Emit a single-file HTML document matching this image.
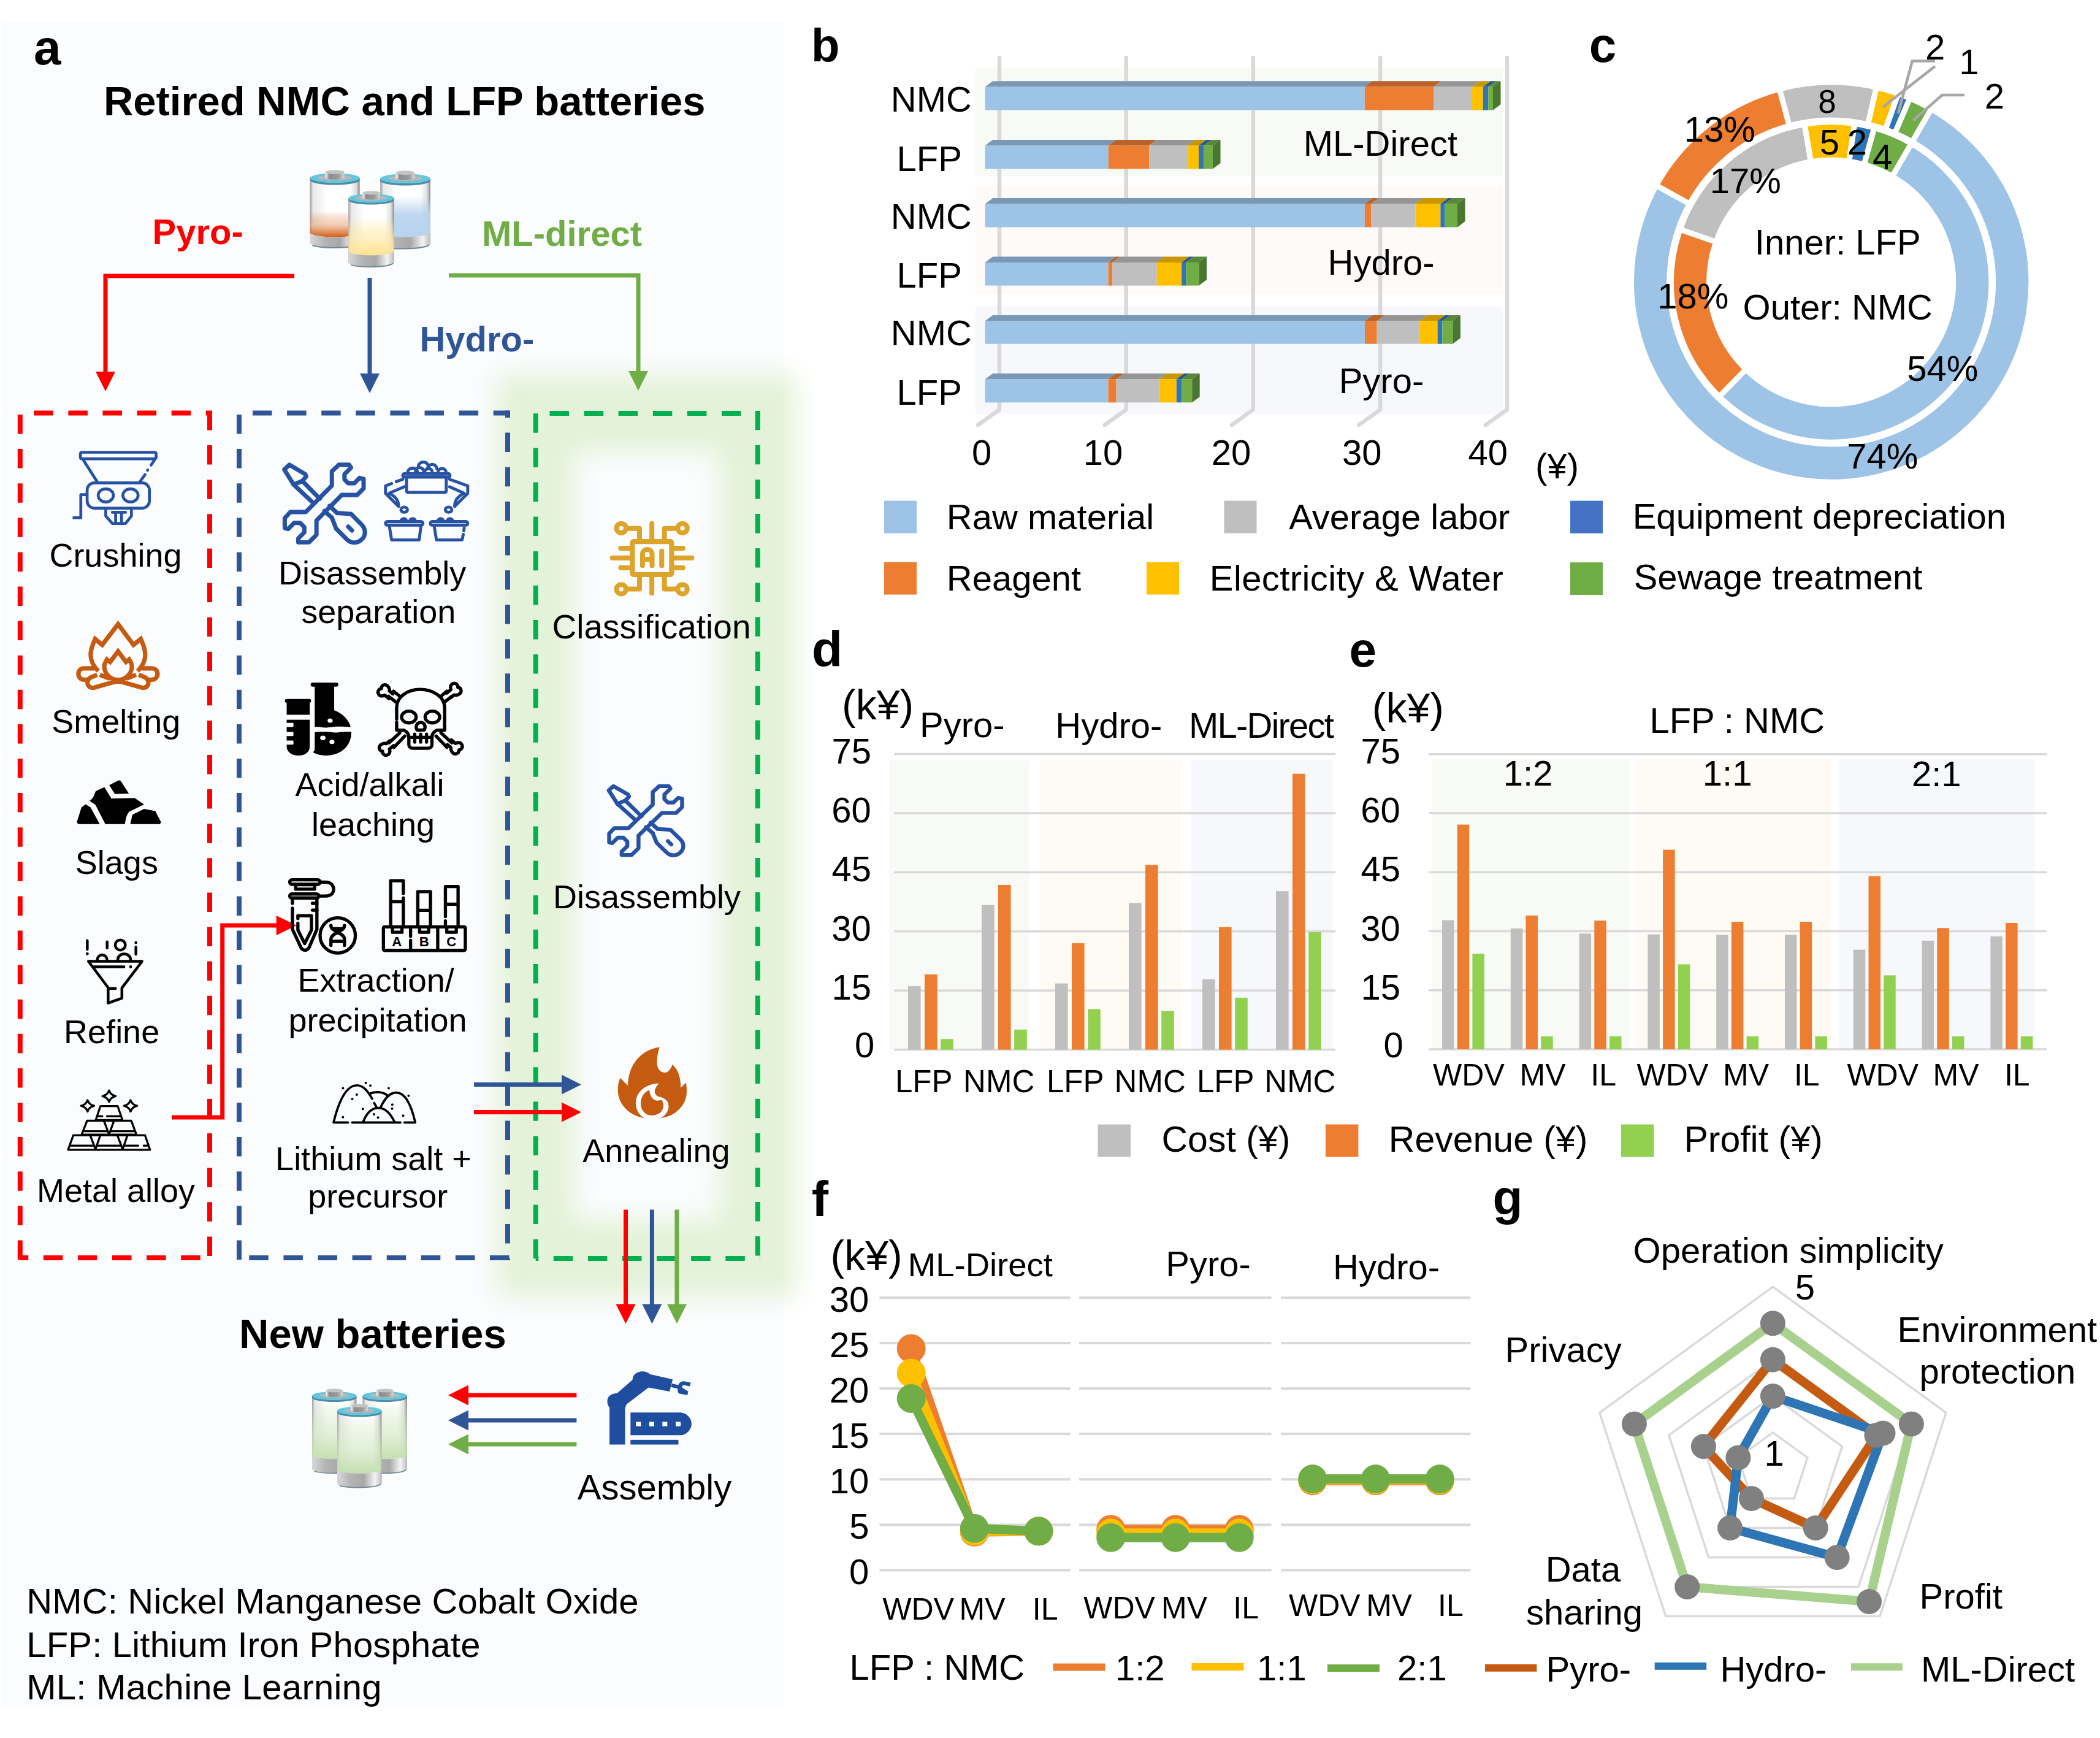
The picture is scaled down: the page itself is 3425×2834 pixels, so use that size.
<!DOCTYPE html>
<html><head><meta charset="utf-8"><style>
html,body{margin:0;padding:0;background:#fff;}
svg{display:block;font-family:"Liberation Sans",sans-serif;}
</style></head><body>
<svg xmlns="http://www.w3.org/2000/svg" width="3425" height="2834" viewBox="0 0 3425 2834">
<defs><filter id="glow" x="-50%" y="-50%" width="200%" height="200%"><feGaussianBlur stdDeviation="20"/></filter><linearGradient id="bBody" x1="0" x2="1" y1="0" y2="0">
<stop offset="0" stop-color="#9a9a9a"/><stop offset="0.06" stop-color="#e8e8e8"/><stop offset="0.35" stop-color="#ffffff"/><stop offset="0.8" stop-color="#ffffff"/><stop offset="0.93" stop-color="#e0e0e0"/><stop offset="1" stop-color="#8a8a8a"/></linearGradient>
<linearGradient id="bBand" x1="0" x2="1" y1="0" y2="0">
<stop offset="0" stop-color="#d8d8d8"/><stop offset="0.3" stop-color="#b4b4b4"/><stop offset="0.6" stop-color="#a8a8a8"/><stop offset="0.85" stop-color="#f4f4f4"/><stop offset="1" stop-color="#bcbcbc"/></linearGradient>
<linearGradient id="bTerm" x1="0" x2="1" y1="0" y2="0">
<stop offset="0" stop-color="#ffffff"/><stop offset="0.2" stop-color="#8c8c8c"/><stop offset="0.7" stop-color="#9c9c9c"/><stop offset="1" stop-color="#d8d8d8"/></linearGradient>
<linearGradient id="lOr" x1="0" x2="0" y1="0" y2="1"><stop offset="0" stop-color="#D9621F" stop-opacity="0"/><stop offset="0.5" stop-color="#E8A070" stop-opacity="0.5"/><stop offset="1" stop-color="#D35A14"/></linearGradient>
<linearGradient id="lBl" x1="0" x2="0" y1="0" y2="1"><stop offset="0" stop-color="#B8D3EE" stop-opacity="0"/><stop offset="0.45" stop-color="#B8D3EE" stop-opacity="0.9"/><stop offset="1" stop-color="#B8D3EE"/></linearGradient>
<linearGradient id="lYe" x1="0" x2="0" y1="0" y2="1"><stop offset="0" stop-color="#FFE391" stop-opacity="0"/><stop offset="0.55" stop-color="#FFE9A8" stop-opacity="0.7"/><stop offset="1" stop-color="#FFE391"/></linearGradient>
<linearGradient id="lGr" x1="0" x2="0" y1="0" y2="1"><stop offset="0" stop-color="#C6E0B4" stop-opacity="0.1"/><stop offset="0.5" stop-color="#D2E8C2" stop-opacity="0.6"/><stop offset="1" stop-color="#C3DFAF"/></linearGradient></defs>
<rect x="2" y="36" width="1276" height="2747" fill="#FBFCFE"/>
<rect x="873.7" y="674" width="362.1" height="1378" fill="none" stroke="#E3F2D8" stroke-width="125" filter="url(#glow)"/>
<text x="54.9" y="105.0" font-size="80" font-weight="bold" fill="#000">a</text>
<text x="168.9" y="188.0" font-size="67" font-weight="bold" fill="#000">Retired NMC and LFP batteries</text>
<text x="248.6" y="398.0" font-size="58" font-weight="bold" fill="#FF0000">Pyro-</text>
<text x="786.0" y="401.0" font-size="58" font-weight="bold" fill="#70AD47">ML-direct</text>
<text x="684.4" y="573.0" font-size="58" font-weight="bold" fill="#2F5597">Hydro-</text>
<path d="M480,450 H172 V610" fill="none" stroke="#FF0000" stroke-width="7"/>
<polygon points="172.0,638.0 156.0,606.0 188.0,606.0" fill="#FF0000"/>
<path d="M603,453 V610" fill="none" stroke="#2F5597" stroke-width="7"/>
<polygon points="603.0,641.0 587.0,609.0 619.0,609.0" fill="#2F5597"/>
<path d="M732,449 H1041 V607" fill="none" stroke="#70AD47" stroke-width="7"/>
<polygon points="1041.0,637.0 1025.0,605.0 1057.0,605.0" fill="#70AD47"/>
<path d="M32.8,673.6 H346" fill="none" stroke="#FF0000" stroke-width="8" stroke-dasharray="31.5 24.6" stroke-dashoffset="33.6"/>
<path d="M32.8,669.6 V2055" fill="none" stroke="#FF0000" stroke-width="8" stroke-dasharray="31.5 24.6" stroke-dashoffset="49.7"/>
<path d="M342,669.6 V2055" fill="none" stroke="#FF0000" stroke-width="8" stroke-dasharray="31.5 24.6" stroke-dashoffset="55.7"/>
<path d="M32.8,2051 H346" fill="none" stroke="#FF0000" stroke-width="8" stroke-dasharray="31.5 24.6" stroke-dashoffset="18.1"/>
<path d="M390,673.6 H832" fill="none" stroke="#2F5597" stroke-width="8" stroke-dasharray="31.5 24.6" stroke-dashoffset="34.1"/>
<path d="M390,669.6 V2055" fill="none" stroke="#2F5597" stroke-width="8" stroke-dasharray="31.5 24.6" stroke-dashoffset="49.7"/>
<path d="M828,669.6 V2055" fill="none" stroke="#2F5597" stroke-width="8" stroke-dasharray="31.5 24.6" stroke-dashoffset="20.1"/>
<path d="M390,2051 H832" fill="none" stroke="#2F5597" stroke-width="8" stroke-dasharray="31.5 24.6" stroke-dashoffset="39.8"/>
<path d="M873.7,674 H1239.8" fill="none" stroke="#00B050" stroke-width="8" stroke-dasharray="31.5 24.6" stroke-dashoffset="33.3"/>
<path d="M873.7,670 V2056" fill="none" stroke="#00B050" stroke-width="8" stroke-dasharray="31.5 24.6" stroke-dashoffset="51.8"/>
<path d="M1235.8,670 V2056" fill="none" stroke="#00B050" stroke-width="8" stroke-dasharray="31.5 24.6" stroke-dashoffset="0.3"/>
<path d="M873.7,2052 H1239.8" fill="none" stroke="#00B050" stroke-width="8" stroke-dasharray="31.5 24.6" stroke-dashoffset="27.0"/>
<path d="M280,1822 H362.7 V1509 H455" fill="none" stroke="#FF0000" stroke-width="7"/>
<polygon points="483.7,1509.0 450.7,1493.0 450.7,1525.0" fill="#FF0000"/>
<path d="M773,1768.5 H918" fill="none" stroke="#2F5597" stroke-width="7"/>
<polygon points="948.0,1768.5 916.0,1752.5 916.0,1784.5" fill="#2F5597"/>
<path d="M773,1813.5 H918" fill="none" stroke="#FF0000" stroke-width="7"/>
<polygon points="948.0,1813.5 916.0,1797.5 916.0,1829.5" fill="#FF0000"/>
<path d="M1020.5,1972.6 V2128" fill="none" stroke="#FF0000" stroke-width="7"/>
<polygon points="1020.5,2158.5 1004.5,2126.5 1036.5,2126.5" fill="#FF0000"/>
<path d="M1063.4,1972.6 V2128" fill="none" stroke="#2F5597" stroke-width="7"/>
<polygon points="1063.4,2158.5 1047.4,2126.5 1079.4,2126.5" fill="#2F5597"/>
<path d="M1104,1972.6 V2128" fill="none" stroke="#70AD47" stroke-width="7"/>
<polygon points="1104.0,2158.5 1088.0,2126.5 1120.0,2126.5" fill="#70AD47"/>
<text x="390.1" y="2198.0" font-size="67" font-weight="bold" fill="#000">New batteries</text>
<path d="M940.4,2275 H762" fill="none" stroke="#FF0000" stroke-width="7"/>
<polygon points="731.0,2275.0 764.0,2258.5 764.0,2291.5" fill="#FF0000"/>
<path d="M940.4,2316 H762" fill="none" stroke="#2F5597" stroke-width="7"/>
<polygon points="731.0,2316.0 764.0,2299.5 764.0,2332.5" fill="#2F5597"/>
<path d="M940.4,2355 H762" fill="none" stroke="#70AD47" stroke-width="7"/>
<polygon points="731.0,2355.0 764.0,2338.5 764.0,2371.5" fill="#70AD47"/>
<text x="80.4" y="923.5" font-size="54" fill="#000">Crushing</text>
<text x="84.2" y="1194.6" font-size="54" fill="#000">Smelting</text>
<text x="122.8" y="1425.0" font-size="54" fill="#000">Slags</text>
<text x="104.1" y="1701.0" font-size="54" fill="#000">Refine</text>
<text x="60.0" y="1960.0" font-size="54" fill="#000">Metal alloy</text>
<text x="454.1" y="953.0" font-size="54" fill="#000">Disassembly</text>
<text x="491.2" y="1016.0" font-size="54" fill="#000">separation</text>
<text x="481.4" y="1298.0" font-size="54" fill="#000">Acid/alkali</text>
<text x="508.0" y="1362.8" font-size="54" fill="#000">leaching</text>
<text x="485.6" y="1617.0" font-size="54" fill="#000">Extraction/</text>
<text x="470.4" y="1681.7" font-size="54" fill="#000">precipitation</text>
<text x="449.1" y="1907.8" font-size="54" fill="#000">Lithium salt +</text>
<text x="502.2" y="1969.0" font-size="54" fill="#000">precursor</text>
<text x="900.5" y="1041.3" font-size="55" fill="#000">Classification</text>
<text x="901.9" y="1480.5" font-size="54" fill="#000">Disassembly</text>
<text x="950.3" y="1895.0" font-size="54" fill="#000">Annealing</text>
<text x="941.8" y="2445.0" font-size="58" fill="#000">Assembly</text>
<text x="43.2" y="2631.0" font-size="58" fill="#000" textLength="998.4" lengthAdjust="spacing">NMC: Nickel Manganese Cobalt Oxide</text>
<text x="43.2" y="2702.0" font-size="58" fill="#000" textLength="740.3" lengthAdjust="spacing">LFP: Lithium Iron Phosphate</text>
<text x="43.2" y="2771.0" font-size="58" fill="#000" textLength="579.4" lengthAdjust="spacing">ML: Machine Learning</text>
<g transform="translate(495,265) scale(0.10476)"><path d="M100,240 V1250 A387.5,69.75 0 0 0 875,1250 V240 Z" fill="url(#bBody)"/><path d="M100,760 V1090 A387.5,69.75 0 0 0 875,1090 V760 Z" fill="url(#lOr)"/><path d="M100,1090 V1250 A387.5,69.75 0 0 0 875,1250 V1090 A387.5,69.75 0 0 1 100,1090 Z" fill="url(#bBand)"/><path d="M138.75,1291.85 A387.5,69.75 0 0 0 855.625,1263.95" fill="none" stroke="#3a5a6a" stroke-width="19.375" opacity="0.7"/><ellipse cx="487.5" cy="240" rx="387.5" ry="73.2375" fill="#62C6DD"/><path d="M100,240 A387.5,73.2375 0 0 0 875,240 v34.875 A387.5,73.2375 0 0 1 100,274.875 Z" fill="#4a8fa5"/><ellipse cx="487.5" cy="236.5125" rx="263.5" ry="43.245" fill="#b8b8b8"/><path d="M340.25,149.325 V233.025 A147.25,31.3875 0 0 0 634.75,233.025 V149.325 Z" fill="url(#bTerm)"/><ellipse cx="487.5" cy="149.325" rx="147.25" ry="31.3875" fill="#c4c4c4"/><path d="M1195,250 V1265 A390.0,70.2 0 0 0 1975,1265 V250 Z" fill="url(#bBody)"/><path d="M1195,520 V1090 A390.0,70.2 0 0 0 1975,1090 V520 Z" fill="url(#lBl)"/><path d="M1195,1090 V1265 A390.0,70.2 0 0 0 1975,1265 V1090 A390.0,70.2 0 0 1 1195,1090 Z" fill="url(#bBand)"/><path d="M1234.0,1307.12 A390.0,70.2 0 0 0 1955.5,1279.04" fill="none" stroke="#3a5a6a" stroke-width="19.5" opacity="0.7"/><ellipse cx="1585.0" cy="250" rx="390.0" ry="73.71000000000001" fill="#62C6DD"/><path d="M1195,250 A390.0,73.71000000000001 0 0 0 1975,250 v35.1 A390.0,73.71000000000001 0 0 1 1195,285.1 Z" fill="#4a8fa5"/><ellipse cx="1585.0" cy="246.49" rx="265.20000000000005" ry="43.524" fill="#b8b8b8"/><path d="M1436.8,158.74 V242.98 A148.2,31.590000000000003 0 0 0 1733.2,242.98 V158.74 Z" fill="url(#bTerm)"/><ellipse cx="1585.0" cy="158.74" rx="148.2" ry="31.590000000000003" fill="#c4c4c4"/><path d="M700,555 V1555 A355.0,63.9 0 0 0 1410,1555 V555 Z" fill="url(#bBody)"/><path d="M700,850 V1380 A355.0,63.9 0 0 0 1410,1380 V850 Z" fill="url(#lYe)"/><path d="M700,1380 V1555 A355.0,63.9 0 0 0 1410,1555 V1380 A355.0,63.9 0 0 1 700,1380 Z" fill="url(#bBand)"/><path d="M735.5,1593.34 A355.0,63.9 0 0 0 1392.25,1567.78" fill="none" stroke="#3a5a6a" stroke-width="17.75" opacity="0.7"/><ellipse cx="1055.0" cy="555" rx="355.0" ry="67.095" fill="#62C6DD"/><path d="M700,555 A355.0,67.095 0 0 0 1410,555 v31.95 A355.0,67.095 0 0 1 700,586.95 Z" fill="#4a8fa5"/><ellipse cx="1055.0" cy="551.805" rx="241.4" ry="39.618" fill="#b8b8b8"/><path d="M920.1,471.93 V548.61 A134.9,28.755 0 0 0 1189.9,548.61 V471.93 Z" fill="url(#bTerm)"/><ellipse cx="1055.0" cy="471.93" rx="134.9" ry="28.755" fill="#c4c4c4"/></g>
<g transform="translate(500,2245) scale(0.10645)"><path d="M85,290 V1410 A340.0,61.199999999999996 0 0 0 765,1410 V290 Z" fill="url(#bBody)"/><path d="M85,420 V1200 A340.0,61.199999999999996 0 0 0 765,1200 V420 Z" fill="url(#lGr)"/><path d="M85,1200 V1410 A340.0,61.199999999999996 0 0 0 765,1410 V1200 A340.0,61.199999999999996 0 0 1 85,1200 Z" fill="url(#bBand)"/><path d="M119.0,1446.72 A340.0,61.199999999999996 0 0 0 748.0,1422.24" fill="none" stroke="#3a5a6a" stroke-width="17.0" opacity="0.7"/><ellipse cx="425.0" cy="290" rx="340.0" ry="64.26" fill="#62C6DD"/><path d="M85,290 A340.0,64.26 0 0 0 765,290 v30.599999999999998 A340.0,64.26 0 0 1 85,320.6 Z" fill="#4a8fa5"/><ellipse cx="425.0" cy="286.94" rx="231.20000000000002" ry="37.943999999999996" fill="#b8b8b8"/><path d="M295.8,210.44 V283.88 A129.2,27.54 0 0 0 554.2,283.88 V210.44 Z" fill="url(#bTerm)"/><ellipse cx="425.0" cy="210.44" rx="129.2" ry="27.54" fill="#c4c4c4"/><path d="M860,290 V1410 A340.0,61.199999999999996 0 0 0 1540,1410 V290 Z" fill="url(#bBody)"/><path d="M860,420 V1200 A340.0,61.199999999999996 0 0 0 1540,1200 V420 Z" fill="url(#lGr)"/><path d="M860,1200 V1410 A340.0,61.199999999999996 0 0 0 1540,1410 V1200 A340.0,61.199999999999996 0 0 1 860,1200 Z" fill="url(#bBand)"/><path d="M894.0,1446.72 A340.0,61.199999999999996 0 0 0 1523.0,1422.24" fill="none" stroke="#3a5a6a" stroke-width="17.0" opacity="0.7"/><ellipse cx="1200.0" cy="290" rx="340.0" ry="64.26" fill="#62C6DD"/><path d="M860,290 A340.0,64.26 0 0 0 1540,290 v30.599999999999998 A340.0,64.26 0 0 1 860,320.6 Z" fill="#4a8fa5"/><ellipse cx="1200.0" cy="286.94" rx="231.20000000000002" ry="37.943999999999996" fill="#b8b8b8"/><path d="M1070.8,210.44 V283.88 A129.2,27.54 0 0 0 1329.2,283.88 V210.44 Z" fill="url(#bTerm)"/><ellipse cx="1200.0" cy="210.44" rx="129.2" ry="27.54" fill="#c4c4c4"/><path d="M470,520 V1630 A340.0,61.199999999999996 0 0 0 1150,1630 V520 Z" fill="url(#bBody)"/><path d="M470,640 V1420 A340.0,61.199999999999996 0 0 0 1150,1420 V640 Z" fill="url(#lGr)"/><path d="M470,1420 V1630 A340.0,61.199999999999996 0 0 0 1150,1630 V1420 A340.0,61.199999999999996 0 0 1 470,1420 Z" fill="url(#bBand)"/><path d="M504.0,1666.72 A340.0,61.199999999999996 0 0 0 1133.0,1642.24" fill="none" stroke="#3a5a6a" stroke-width="17.0" opacity="0.7"/><ellipse cx="810.0" cy="520" rx="340.0" ry="64.26" fill="#62C6DD"/><path d="M470,520 A340.0,64.26 0 0 0 1150,520 v30.599999999999998 A340.0,64.26 0 0 1 470,550.6 Z" fill="#4a8fa5"/><ellipse cx="810.0" cy="516.94" rx="231.20000000000002" ry="37.943999999999996" fill="#b8b8b8"/><path d="M680.8,440.44 V513.88 A129.2,27.54 0 0 0 939.2,513.88 V440.44 Z" fill="url(#bTerm)"/><ellipse cx="810.0" cy="440.44" rx="129.2" ry="27.54" fill="#c4c4c4"/></g>
<g transform="translate(0,640) scale(0.2143)" fill="none" stroke="#2752A3" stroke-width="22" stroke-linecap="round" stroke-linejoin="round" stroke-miterlimit="10"><rect x="612" y="455" width="576" height="50" rx="10"/><path d="M632,510 L742,683 M1178,510 L1150,552 M1124,590 L1123,592 M1104,625 L1062,683"/><rect x="663" y="688" width="474" height="192" rx="55"/><ellipse cx="805" cy="783" rx="58" ry="50"/><ellipse cx="993" cy="783" rx="58" ry="50"/><path d="M657,778 H615 V953 H562"/><path d="M805,885 V940 L855,997 H955 L1000,940 V885"/><path d="M855,912 H955 M880,915 V995 M925,915 V995"/></g>
<g transform="translate(110,1000) scale(0.08056)" fill="none" stroke="#C55A11" stroke-width="90" stroke-linecap="butt" stroke-linejoin="miter" stroke-miterlimit="10"><path d="M625,1170 C500,1050 450,900 478,760 C492,680 525,600 560,520 L705,640 L1025,220 L1337,640 L1485,520 C1520,600 1552,680 1566,760 C1595,900 1545,1050 1420,1170"/><path d="M800,935 L865,985 L1025,770 L1185,985 L1250,935 C1290,1000 1305,1040 1305,1070 A280,280 0 0 1 745,1070 C745,1040 760,1000 800,935 Z"/><path d="M540,1115 H330 C260,1115 222,1170 222,1230 C222,1295 270,1345 340,1345 H395"/><path d="M1505,1115 H1715 C1785,1115 1823,1170 1823,1230 C1823,1295 1775,1345 1705,1345 H1650"/><path d="M600,1245 L470,1300 C410,1330 395,1400 415,1450 C440,1505 500,1520 560,1500 L1025,1370 L1485,1500 C1545,1520 1605,1505 1630,1450 C1650,1400 1635,1330 1575,1300 L1445,1245"/><path d="M655,1245 L860,1325 M1390,1245 L1185,1325"/></g>
<g transform="translate(110,1260) scale(0.07619)" fill="#000"><path d="M200,1060 L300,740 L390,675 L495,740 L690,1100 L230,1100 Z"/><path d="M895,265 L1100,160 L1140,175 L1315,445 L1015,455 Z"/><path d="M475,600 C540,560 560,520 605,395 L790,310 L940,550 L1440,540 L1640,680 L1330,830 C1280,870 1250,960 1230,1100 L810,1100 L600,690 C560,650 520,640 475,600 Z"/><path d="M1345,1100 L1390,900 L1640,775 L1880,820 L2005,1060 L1980,1100 Z"/></g>
<g transform="translate(130,1520) scale(0.07481)" fill="none" stroke="#000" stroke-width="60" stroke-linecap="round" stroke-linejoin="round" stroke-miterlimit="10"><path d="M190,635 L620,1210 V1545 L920,1440 V1215 L1360,635 Z"/><path d="M290,755 H965 M650,1225 H780 M165,185 V375 M598,210 V345 M1225,325 V480"/><path d="M385,600 A105,105 0 1 1 595,600"/><path d="M830,600 A140,125 0 0 1 1110,600"/><circle cx="885" cy="280" r="110"/></g><g transform="translate(130,1520) scale(0.07481)" fill="#000"><circle cx="165" cy="470" r="32"/><circle cx="1110" cy="755" r="32"/><circle cx="1225" cy="228" r="32"/></g>
<g transform="translate(100,1770) scale(0.07381)" fill="none" stroke="#000" stroke-width="45" stroke-linecap="round" stroke-linejoin="round" stroke-miterlimit="10"><path d="M865,455 H1245 L1350,765 H760 Z"/><path d="M820,680 H905 M1010,680 H1300"/><path d="M570,778 H1545 L1660,1085 H450 Z"/><path d="M945,790 L1055,1080 L1160,790 M515,1010 H1010 M1100,1010 H1600"/><path d="M265,1100 H1850 L1960,1420 H150 Z"/><path d="M640,1105 L755,1410 L860,1105 M1240,1105 L1355,1410 L1460,1105"/><path d="M200,1330 H730 M790,1330 H1320 M1410,1330 H1700 M1820,1330 H1900"/><path d="M580,325 Q611.9,422.5 725,450 Q611.9,477.5 580,575 Q548.1,477.5 435,450 Q548.1,422.5 580,325 Z"/><path d="M1055,110 Q1086.9,207.5 1200,235 Q1086.9,262.5 1055,360 Q1023.1,262.5 910,235 Q1023.1,207.5 1055,110 Z"/><path d="M1530,325 Q1561.9,422.5 1675,450 Q1561.9,477.5 1530,575 Q1498.1,477.5 1385,450 Q1498.1,422.5 1530,325 Z"/></g>
<g transform="translate(452.2277777777778,743.9826187717265) scale(0.15222222222222223,0.1541135573580533)" fill="none" stroke="#2752A3" stroke-width="46" stroke-linejoin="round" stroke-linecap="round"><path d="M80,655 L140,590 H305 L585,310 V160 L660,90 H770 L790,120 L720,190 V245 L760,285 H825 L880,230 L925,240 V340 L855,410 H690 L420,680 V830 L340,910 H225 V870 L290,805 V750 L245,705 H180 L115,770 L80,760 Z"/><path d="M175,300 L75,140 L130,90 L300,190 L310,215 L268,262 Z"/><path d="M268,262 L455,450 M175,300 L380,490"/><path d="M560,525 L640,600 M505,580 L585,650"/><path d="M640,600 L790,610 L905,725 C950,770 950,840 905,880 C860,925 790,925 745,880 L630,765 L585,650"/><path d="M760,745 L800,785"/></g>
<g transform="translate(452,745) scale(0.15238)" fill="none" stroke="#2752A3" stroke-width="32" stroke-linecap="round" stroke-linejoin="round" stroke-miterlimit="10"><rect x="1345" y="180" width="505" height="35" rx="17"/><rect x="1385" y="215" width="425" height="165" rx="14"/><path d="M1395,175 A55,55 0 0 1 1505,175"/><path d="M1510,110 A55,55 0 0 1 1620,110"/><path d="M1610,130 A50,50 0 0 1 1710,130"/><path d="M1720,170 A45,45 0 0 1 1810,170"/><path d="M1480,160 A45,45 0 0 1 1570,160"/><path d="M1580,165 A40,40 0 0 1 1660,165"/><path d="M1345,240 L1275,265 M1225,285 L1160,310 V390 L1300,530 C1300,470 1275,430 1200,388 L1360,320"/><path d="M1845,240 L2040,310 V390 L1900,530 C1900,470 1925,430 2000,388 L1845,320"/><ellipse cx="1360" cy="565" rx="35" ry="28"/><ellipse cx="1835" cy="565" rx="35" ry="28"/><rect x="1160" y="692" width="400" height="38" rx="18"/><path d="M1200,735 L1225,888 H1520 L1540,735"/><path d="M1325,690 A30,30 0 0 1 1385,690 M1420,690 A30,30 0 0 1 1480,690"/><rect x="1640" y="692" width="400" height="38" rx="18"/><path d="M1680,735 L1705,888 H1980 L1992,830 M1998,790 L2002,760"/><path d="M1720,690 A30,30 0 0 1 1780,690 M1820,690 A30,30 0 0 1 1880,690"/></g>
<g transform="translate(455,1105) scale(0.14762)" fill="#000"><rect x="65" y="235" width="290" height="42" rx="21"/><path d="M85,270 H340 V760 C340,820 290,860 215,860 C140,860 85,820 85,760 Z"/><rect x="350" y="55" width="305" height="45" rx="22"/><path d="M395,95 H610 V360 C700,390 800,480 800,600 C800,760 680,860 520,860 C460,860 410,845 375,825 L395,800 Z"/></g><g transform="translate(455,1105) scale(0.14762)" fill="#FBFCFE"><rect x="80" y="410" width="265" height="55"/><rect x="80" y="500" width="80" height="45" rx="10"/><rect x="80" y="600" width="80" height="45" rx="10"/><rect x="80" y="695" width="80" height="45" rx="10"/><path d="M390,545 C450,535 480,560 540,550 C600,540 650,535 805,545 V600 C700,592 660,612 600,605 C540,598 450,595 390,605 Z"/><ellipse cx="565" cy="475" rx="28" ry="24"/><ellipse cx="485" cy="665" rx="30" ry="25"/><ellipse cx="585" cy="710" rx="28" ry="24"/></g>
<g transform="translate(455,1105) scale(0.14762)" fill="none" stroke="#000" stroke-width="36" stroke-linecap="round" stroke-linejoin="round" stroke-miterlimit="10"><path d="M1300,455 V330 C1300,210 1420,130 1560,130 C1700,130 1830,210 1830,330 V580 H1745 C1700,600 1690,630 1690,660 V740 C1690,765 1670,780 1645,780 H1480 C1455,780 1435,765 1435,740 V660 C1435,630 1420,600 1380,580 H1300 V490"/><ellipse cx="1435" cy="435" rx="80" ry="65"/><ellipse cx="1695" cy="435" rx="80" ry="65"/><path d="M1525,578 C1505,540 1520,495 1565,495 C1610,495 1625,540 1605,578 Z"/><path d="M1435,660 H1690 M1500,625 V712 M1565,625 V712 M1630,625 V712"/><path d="M1210,205 L1290,268 M1265,150 L1335,205"/><path d="M1910,205 L1840,262 M1855,150 L1790,205"/><path d="M1215,720 L1335,610 M1270,770 L1390,645"/><path d="M1910,720 L1790,610 M1855,770 L1735,645"/><g transform="translate(1210,175) rotate(40)"><path d="M40,-28 L-10,-28 C-30,-60 -80,-70 -100,-40 C-115,-20 -105,0 -95,10 C-115,30 -110,65 -80,75 C-55,85 -30,70 -20,40 L40,40"/></g><g transform="translate(1910,175) rotate(140)"><path d="M40,-28 L-10,-28 C-30,-60 -80,-70 -100,-40 C-115,-20 -105,0 -95,10 C-115,30 -110,65 -80,75 C-55,85 -30,70 -20,40 L40,40"/></g><g transform="translate(1210,745) rotate(-40)"><path d="M40,-28 L-10,-28 C-30,-60 -80,-70 -100,-40 C-115,-20 -105,0 -95,10 C-115,30 -110,65 -80,75 C-55,85 -30,70 -20,40 L40,40"/></g><g transform="translate(1910,745) rotate(-140)"><path d="M40,-28 L-10,-28 C-30,-60 -80,-70 -100,-40 C-115,-20 -105,0 -95,10 C-115,30 -110,65 -80,75 C-55,85 -30,70 -20,40 L40,40"/></g></g>
<g transform="translate(460,1425) scale(0.14762)" fill="none" stroke="#000" stroke-width="36" stroke-linecap="round" stroke-linejoin="round" stroke-miterlimit="10"><rect x="85" y="65" width="335" height="50" rx="25"/><path d="M150,120 H360 V168 H150 Z"/><path d="M420,90 H480 C540,90 570,130 570,167 C570,210 540,245 480,245 H405"/><rect x="85" y="222" width="320" height="44" rx="22"/><path d="M115,278 V325 M115,378 V612 L210,815 C232,852 278,852 298,815 L385,612 V278"/><path d="M335,325 H385 M335,400 H385"/><path d="M175,492 V462 H325 V620 L250,770 L175,620 V545"/><circle cx="615" cy="680" r="195"/><path d="M540,570 C540,640 690,650 690,720 V790 M690,570 C690,640 540,650 540,720 V790 M555,605 H675 M555,745 H675"/></g>
<g transform="translate(460,1425) scale(0.14762)" fill="none" stroke="#000" stroke-width="36" stroke-linecap="round" stroke-linejoin="round" stroke-miterlimit="10"><rect x="1120" y="585" width="905" height="260" rx="14"/><path d="M1420,590 V690 M1420,735 V845 M1720,590 V845"/><path d="M1200,580 V75 H1340 V215 M1340,265 V580 M1200,308 H1335"/><path d="M1500,580 V195 H1640 V580 M1500,402 H1640"/><path d="M1805,580 V520 M1805,470 V140 H1945 V580 M1805,335 H1945"/><path d="M1220,595 V645 H1325 V595 M1520,595 V645 H1620 V595 M1820,595 V645 H1925 V595"/><text x="1268" y="800" font-size="150" font-weight="bold" text-anchor="middle" fill="#000" stroke="none">A</text><text x="1570" y="800" font-size="150" font-weight="bold" text-anchor="middle" fill="#000" stroke="none">B</text><text x="1872" y="800" font-size="150" font-weight="bold" text-anchor="middle" fill="#000" stroke="none">C</text></g>
<g transform="translate(535,1755) scale(0.07381)" fill="none" stroke="#000" stroke-width="50" stroke-linecap="round" stroke-linejoin="round" stroke-miterlimit="10"><path d="M125,1020 H440 M535,1020 H1600 M1690,1020 H1925"/><path d="M125,1010 C250,500 420,200 640,200 C780,200 880,330 975,495"/><path d="M935,380 C1050,330 1200,340 1310,420"/><path d="M1165,680 C1250,500 1350,360 1510,360 C1700,360 1830,600 1925,1010"/><path d="M775,1010 C850,820 950,700 1110,700 C1270,700 1380,820 1470,1010"/><path d="M1020,590 L1065,670"/></g><g transform="translate(535,1755) scale(0.07381)" fill="#000"><circle cx="330" cy="265" r="27"/><circle cx="835" cy="145" r="27"/><circle cx="935" cy="205" r="27"/><circle cx="1340" cy="265" r="27"/><circle cx="1780" cy="430" r="27"/><circle cx="635" cy="405" r="27"/><circle cx="535" cy="500" r="27"/><circle cx="770" cy="720" r="27"/><circle cx="330" cy="905" r="27"/><circle cx="1420" cy="625" r="27"/><circle cx="1415" cy="715" r="27"/><circle cx="1660" cy="870" r="27"/><circle cx="1015" cy="840" r="27"/><circle cx="1105" cy="910" r="27"/></g>
<g transform="translate(985,840) scale(0.08056)" fill="none" stroke="#DCA42A" stroke-width="100" stroke-linecap="round" stroke-linejoin="round" stroke-miterlimit="10"><rect x="575" y="535" width="795" height="670" rx="25"/><path d="M780,1020 V800 C780,730 830,695 877,695 C930,695 975,730 975,800 V1020 M790,895 H965"/><path d="M1170,730 V1020"/><path d="M970,170 V500 M720,500 V270 H470 M1225,500 V270 H1470"/><path d="M970,1250 V1580 M720,1245 V1495 H470 M1225,1245 V1495 H1470"/><circle cx="350" cy="265" r="95"/><circle cx="1590" cy="265" r="95"/><circle cx="350" cy="1500" r="95"/><circle cx="1590" cy="1500" r="95"/><path d="M340,670 H530 M170,865 H530 M340,1065 H530 M1420,670 H1600 M1420,865 H1780 M1420,1065 H1600"/></g>
<g transform="translate(982.2572222222223,1269.6123986095017) scale(0.14077777777777778,0.13673232908458866)" fill="none" stroke="#2752A3" stroke-width="46" stroke-linejoin="round" stroke-linecap="round"><path d="M80,655 L140,590 H305 L585,310 V160 L660,90 H770 L790,120 L720,190 V245 L760,285 H825 L880,230 L925,240 V340 L855,410 H690 L420,680 V830 L340,910 H225 V870 L290,805 V750 L245,705 H180 L115,770 L80,760 Z"/><path d="M175,300 L75,140 L130,90 L300,190 L310,215 L268,262 Z"/><path d="M268,262 L455,450 M175,300 L380,490"/><path d="M560,525 L640,600 M505,580 L585,650"/><path d="M640,600 L790,610 L905,725 C950,770 950,840 905,880 C860,925 790,925 745,880 L630,765 L585,650"/><path d="M760,745 L800,785"/></g>
<g transform="translate(1000,1700) scale(0.07766)" fill="none"><path d="M700,1590 C350,1560 100,1300 100,1000 C100,900 120,800 150,745 L310,905 C310,500 560,150 975,95 C940,200 920,300 920,420 C920,530 980,630 1080,630 C1160,630 1210,560 1245,460 C1360,560 1420,720 1420,950 L1530,845 C1540,900 1545,960 1545,1030 C1545,1320 1300,1560 970,1590 Z" fill="#C55A11"/><path d="M820,1620 C620,1620 475,1470 475,1270 C475,1050 660,870 965,855 C900,920 875,980 875,1030 C875,1090 920,1125 960,1135 C1080,1160 1165,1220 1165,1330 C1165,1500 1020,1620 820,1620 Z" fill="#FBFCFE"/><path d="M810,1530 C680,1530 580,1420 580,1280 C580,1150 640,1050 760,995 C770,1090 800,1170 880,1210 C920,1225 980,1220 1020,1200 C1040,1240 1055,1280 1055,1320 C1055,1440 960,1530 810,1530 Z" fill="#C55A11"/></g>
<g transform="translate(980,2225) scale(0.08056)" fill="#1F4E9F"><rect x="175" y="870" width="315" height="750"/><path d="M130,740 C130,640 220,580 330,580 L640,310 C640,200 740,140 840,140 C900,140 960,160 990,195 L1455,300 L1390,545 L965,465 L520,805 L490,880 L175,870 C140,830 130,790 130,740 Z"/><path d="M1440,385 L1580,420 L1560,490 L1420,455 Z"/><path d="M1560,440 C1570,380 1620,335 1690,340 L1820,365 L1800,440 L1680,420 C1650,420 1640,440 1645,470 L1770,545 L1750,620 L1580,585 C1550,560 1550,500 1560,440 Z"/><path d="M600,970 H1600 C1730,970 1835,1080 1835,1200 C1835,1320 1730,1430 1600,1430 H600 Z"/><rect x="600" y="1525" width="970" height="95"/></g><g transform="translate(980,2225) scale(0.08056)" fill="#FBFCFE"><rect x="710" y="1160" width="100" height="90"/><rect x="980" y="1160" width="100" height="90"/><rect x="1245" y="1160" width="100" height="90"/><rect x="1515" y="1160" width="100" height="90"/></g>
<text x="1322.9" y="100.0" font-size="76" font-weight="bold" fill="#000">b</text>
<rect x="1591" y="110.7" width="860.5" height="176.8" fill="#F8FAF6"/>
<rect x="1591" y="302" width="860.5" height="177" fill="#FDFAF7"/>
<rect x="1591" y="499.2" width="860.5" height="176.2" fill="#F6F8FC"/>
<path d="M1630,94 V668 L1595,693" fill="none" stroke="#D9D9D9" stroke-width="6.5" stroke-linecap="round" stroke-linejoin="round"/>
<path d="M1836.7,94 V668 L1801.7,693" fill="none" stroke="#D9D9D9" stroke-width="6.5" stroke-linecap="round" stroke-linejoin="round"/>
<path d="M2043.8,94 V668 L2008.8,693" fill="none" stroke="#D9D9D9" stroke-width="6.5" stroke-linecap="round" stroke-linejoin="round"/>
<path d="M2251.2,94 V668 L2216.2,693" fill="none" stroke="#D9D9D9" stroke-width="6.5" stroke-linecap="round" stroke-linejoin="round"/>
<path d="M2458,94 V668 L2423,693" fill="none" stroke="#D9D9D9" stroke-width="6.5" stroke-linecap="round" stroke-linejoin="round"/>
<rect x="1606.7" y="141.6" width="619.1" height="38.0" fill="#9DC3E6"/>
<polygon points="1606.7,141.6 2225.8,141.6 2238.3,132.2 1619.2,132.2" fill="#7A98B6"/>
<rect x="2225.8" y="141.6" width="112.2" height="38.0" fill="#ED7D31"/>
<polygon points="2225.8,141.6 2338,141.6 2350.5,132.2 2238.3,132.2" fill="#B9622A"/>
<rect x="2338" y="141.6" width="63.0" height="38.0" fill="#BFBFBF"/>
<polygon points="2338,141.6 2401,141.6 2413.5,132.2 2350.5,132.2" fill="#959595"/>
<rect x="2401" y="141.6" width="17.8" height="38.0" fill="#FFC000"/>
<polygon points="2401,141.6 2418.8,141.6 2431.3,132.2 2413.5,132.2" fill="#C79600"/>
<rect x="2418.8" y="141.6" width="8.4" height="38.0" fill="#2E75B6"/>
<polygon points="2418.8,141.6 2427.2,141.6 2439.7,132.2 2431.3,132.2" fill="#24598B"/>
<rect x="2427.2" y="141.6" width="7.8" height="38.0" fill="#70AD47"/>
<polygon points="2427.2,141.6 2435,141.6 2447.5,132.2 2439.7,132.2" fill="#58893A"/>
<polygon points="2435,141.6 2447.5,132.2 2447.5,170.2 2435,179.6" fill="#4A7730"/>
<rect x="1606.7" y="237.3" width="201.0" height="38.0" fill="#9DC3E6"/>
<polygon points="1606.7,237.3 1807.7,237.3 1820.2,227.9 1619.2,227.9" fill="#7A98B6"/>
<rect x="1807.7" y="237.3" width="66.3" height="38.0" fill="#ED7D31"/>
<polygon points="1807.7,237.3 1874,237.3 1886.5,227.9 1820.2,227.9" fill="#B9622A"/>
<rect x="1874" y="237.3" width="63.3" height="38.0" fill="#BFBFBF"/>
<polygon points="1874,237.3 1937.3,237.3 1949.8,227.9 1886.5,227.9" fill="#959595"/>
<rect x="1937.3" y="237.3" width="17.7" height="38.0" fill="#FFC000"/>
<polygon points="1937.3,237.3 1955,237.3 1967.5,227.9 1949.8,227.9" fill="#C79600"/>
<rect x="1955" y="237.3" width="8.3" height="38.0" fill="#2E75B6"/>
<polygon points="1955,237.3 1963.3,237.3 1975.8,227.9 1967.5,227.9" fill="#24598B"/>
<rect x="1963.3" y="237.3" width="14.7" height="38.0" fill="#70AD47"/>
<polygon points="1963.3,237.3 1978,237.3 1990.5,227.9 1975.8,227.9" fill="#58893A"/>
<polygon points="1978,237.3 1990.5,227.9 1990.5,265.90000000000003 1978,275.3" fill="#4A7730"/>
<rect x="1606.7" y="332.5" width="619.1" height="38.0" fill="#9DC3E6"/>
<polygon points="1606.7,332.5 2225.8,332.5 2238.3,323.1 1619.2,323.1" fill="#7A98B6"/>
<rect x="2225.8" y="332.5" width="10.2" height="38.0" fill="#ED7D31"/>
<polygon points="2225.8,332.5 2236,332.5 2248.5,323.1 2238.3,323.1" fill="#B9622A"/>
<rect x="2236" y="332.5" width="72.3" height="38.0" fill="#BFBFBF"/>
<polygon points="2236,332.5 2308.3,332.5 2320.8,323.1 2248.5,323.1" fill="#959595"/>
<rect x="2308.3" y="332.5" width="41.1" height="38.0" fill="#FFC000"/>
<polygon points="2308.3,332.5 2349.4,332.5 2361.9,323.1 2320.8,323.1" fill="#C79600"/>
<rect x="2349.4" y="332.5" width="7.1" height="38.0" fill="#2E75B6"/>
<polygon points="2349.4,332.5 2356.5,332.5 2369.0,323.1 2361.9,323.1" fill="#24598B"/>
<rect x="2356.5" y="332.5" width="20.5" height="38.0" fill="#70AD47"/>
<polygon points="2356.5,332.5 2377,332.5 2389.5,323.1 2369.0,323.1" fill="#58893A"/>
<polygon points="2377,332.5 2389.5,323.1 2389.5,361.1 2377,370.5" fill="#4A7730"/>
<rect x="1606.7" y="427.9" width="200.8" height="37.7" fill="#9DC3E6"/>
<polygon points="1606.7,427.9 1807.5,427.9 1820.0,418.5 1619.2,418.5" fill="#7A98B6"/>
<rect x="1807.5" y="427.9" width="6.5" height="37.7" fill="#ED7D31"/>
<polygon points="1807.5,427.9 1814,427.9 1826.5,418.5 1820.0,418.5" fill="#B9622A"/>
<rect x="1814" y="427.9" width="72.6" height="37.7" fill="#BFBFBF"/>
<polygon points="1814,427.9 1886.6,427.9 1899.1,418.5 1826.5,418.5" fill="#959595"/>
<rect x="1886.6" y="427.9" width="40.6" height="37.7" fill="#FFC000"/>
<polygon points="1886.6,427.9 1927.2,427.9 1939.7,418.5 1899.1,418.5" fill="#C79600"/>
<rect x="1927.2" y="427.9" width="7.3" height="37.7" fill="#2E75B6"/>
<polygon points="1927.2,427.9 1934.5,427.9 1947.0,418.5 1939.7,418.5" fill="#24598B"/>
<rect x="1934.5" y="427.9" width="21.0" height="37.7" fill="#70AD47"/>
<polygon points="1934.5,427.9 1955.5,427.9 1968.0,418.5 1947.0,418.5" fill="#58893A"/>
<polygon points="1955.5,427.9 1968.0,418.5 1968.0,456.20000000000005 1955.5,465.6" fill="#4A7730"/>
<rect x="1606.7" y="523.3" width="619.3" height="37.4" fill="#9DC3E6"/>
<polygon points="1606.7,523.3 2226,523.3 2238.5,513.9 1619.2,513.9" fill="#7A98B6"/>
<rect x="2226" y="523.3" width="19.6" height="37.4" fill="#ED7D31"/>
<polygon points="2226,523.3 2245.6,523.3 2258.1,513.9 2238.5,513.9" fill="#B9622A"/>
<rect x="2245.6" y="523.3" width="70.2" height="37.4" fill="#BFBFBF"/>
<polygon points="2245.6,523.3 2315.8,523.3 2328.3,513.9 2258.1,513.9" fill="#959595"/>
<rect x="2315.8" y="523.3" width="28.8" height="37.4" fill="#FFC000"/>
<polygon points="2315.8,523.3 2344.6,523.3 2357.1,513.9 2328.3,513.9" fill="#C79600"/>
<rect x="2344.6" y="523.3" width="7.8" height="37.4" fill="#2E75B6"/>
<polygon points="2344.6,523.3 2352.4,523.3 2364.9,513.9 2357.1,513.9" fill="#24598B"/>
<rect x="2352.4" y="523.3" width="17.0" height="37.4" fill="#70AD47"/>
<polygon points="2352.4,523.3 2369.4,523.3 2381.9,513.9 2364.9,513.9" fill="#58893A"/>
<polygon points="2369.4,523.3 2381.9,513.9 2381.9,551.3000000000001 2369.4,560.7" fill="#4A7730"/>
<rect x="1606.7" y="618.3" width="200.8" height="38.0" fill="#9DC3E6"/>
<polygon points="1606.7,618.3 1807.5,618.3 1820.0,608.9 1619.2,608.9" fill="#7A98B6"/>
<rect x="1807.5" y="618.3" width="13.1" height="38.0" fill="#ED7D31"/>
<polygon points="1807.5,618.3 1820.6,618.3 1833.1,608.9 1820.0,608.9" fill="#B9622A"/>
<rect x="1820.6" y="618.3" width="70.7" height="38.0" fill="#BFBFBF"/>
<polygon points="1820.6,618.3 1891.3,618.3 1903.8,608.9 1833.1,608.9" fill="#959595"/>
<rect x="1891.3" y="618.3" width="27.5" height="38.0" fill="#FFC000"/>
<polygon points="1891.3,618.3 1918.8,618.3 1931.3,608.9 1903.8,608.9" fill="#C79600"/>
<rect x="1918.8" y="618.3" width="8.4" height="38.0" fill="#2E75B6"/>
<polygon points="1918.8,618.3 1927.2,618.3 1939.7,608.9 1931.3,608.9" fill="#24598B"/>
<rect x="1927.2" y="618.3" width="17.0" height="38.0" fill="#70AD47"/>
<polygon points="1927.2,618.3 1944.2,618.3 1956.7,608.9 1939.7,608.9" fill="#58893A"/>
<polygon points="1944.2,618.3 1956.7,608.9 1956.7,646.9 1944.2,656.3" fill="#4A7730"/>
<text x="1452.8" y="182.1" font-size="58" fill="#000">NMC</text>
<text x="1462.6" y="278.8" font-size="58" fill="#000">LFP</text>
<text x="1452.8" y="373.0" font-size="58" fill="#000">NMC</text>
<text x="1462.6" y="469.1" font-size="58" fill="#000">LFP</text>
<text x="1452.8" y="563.2" font-size="58" fill="#000">NMC</text>
<text x="1462.6" y="659.8" font-size="58" fill="#000">LFP</text>
<text x="2125.7" y="254.2" font-size="58" fill="#000">ML-Direct</text>
<text x="2165.5" y="447.5" font-size="58" fill="#000">Hydro-</text>
<text x="2183.7" y="640.9" font-size="58" fill="#000">Pyro-</text>
<text x="1585.0" y="758.0" font-size="58" fill="#000">0</text>
<text x="1766.8" y="758.0" font-size="58" fill="#000">10</text>
<text x="1975.7" y="758.0" font-size="58" fill="#000">20</text>
<text x="2188.9" y="758.0" font-size="58" fill="#000">30</text>
<text x="2394.6" y="758.0" font-size="58" fill="#000">40</text>
<text x="2504.1" y="779.5" font-size="58" fill="#000">(¥)</text>
<rect x="1442" y="816.5" width="53" height="53" fill="#9DC3E6"/>
<rect x="1996.5" y="816.5" width="53" height="53" fill="#BFBFBF"/>
<rect x="2561" y="816.6" width="53" height="53" fill="#4472C4"/>
<rect x="1442" y="916.5" width="53" height="53" fill="#ED7D31"/>
<rect x="1870" y="916.5" width="53" height="53" fill="#FFC000"/>
<rect x="2561" y="917" width="53" height="53" fill="#70AD47"/>
<text x="1543.8" y="862.5" font-size="58" fill="#000">Raw material</text>
<text x="2102.2" y="862.5" font-size="58" fill="#000">Average labor</text>
<text x="2662.7" y="862.0" font-size="58" fill="#000">Equipment depreciation</text>
<text x="1543.8" y="962.5" font-size="58" fill="#000">Reagent</text>
<text x="1972.8" y="962.5" font-size="58" fill="#000" textLength="479.0" lengthAdjust="spacing">Electricity &amp; Water</text>
<text x="2664.7" y="961.0" font-size="58" fill="#000">Sewage treatment</text>
<text x="2591.8" y="101.3" font-size="80" font-weight="bold" fill="#000">c</text>
<path d="M3149.80,177.50 A326.2,326.2 0 1 1 2701.18,302.25 L2755.62,332.33 A264,264 0 1 0 3118.70,231.37 Z" fill="#9DC3E6" stroke="#fff" stroke-width="9" stroke-linejoin="miter"/>
<path d="M2701.18,302.25 A326.2,326.2 0 0 1 2902.27,144.91 L2918.37,205.00 A264,264 0 0 0 2755.62,332.33 Z" fill="#ED7D31" stroke="#fff" stroke-width="9" stroke-linejoin="miter"/>
<path d="M2902.27,144.91 A326.2,326.2 0 0 1 3060.52,142.26 L3046.45,202.85 A264,264 0 0 0 2918.37,205.00 Z" fill="#BFBFBF" stroke="#fff" stroke-width="9" stroke-linejoin="miter"/>
<path d="M3060.52,142.26 A326.2,326.2 0 0 1 3095.91,152.62 L3075.09,211.24 A264,264 0 0 0 3046.45,202.85 Z" fill="#FFC000" stroke="#fff" stroke-width="9" stroke-linejoin="miter"/>
<path d="M3095.91,152.62 A326.2,326.2 0 0 1 3114.99,160.09 L3090.53,217.28 A264,264 0 0 0 3075.09,211.24 Z" fill="#2E75B6" stroke="#fff" stroke-width="9" stroke-linejoin="miter"/>
<path d="M3114.99,160.09 A326.2,326.2 0 0 1 3149.80,177.50 L3118.70,231.37 A264,264 0 0 0 3090.53,217.28 Z" fill="#70AD47" stroke="#fff" stroke-width="9" stroke-linejoin="miter"/>
<path d="M3117.30,233.79 A261.2,261.2 0 1 1 2803.95,646.62 L2847.47,602.18 A199,199 0 1 0 3086.20,287.66 Z" fill="#9DC3E6" stroke="#fff" stroke-width="9" stroke-linejoin="miter"/>
<path d="M2803.95,646.62 A261.2,261.2 0 0 1 2740.03,374.10 L2798.77,394.56 A199,199 0 0 0 2847.47,602.18 Z" fill="#ED7D31" stroke="#fff" stroke-width="9" stroke-linejoin="miter"/>
<path d="M2740.03,374.10 A261.2,261.2 0 0 1 2943.14,202.46 L2953.51,263.79 A199,199 0 0 0 2798.77,394.56 Z" fill="#BFBFBF" stroke="#fff" stroke-width="9" stroke-linejoin="miter"/>
<path d="M2943.14,202.46 A261.2,261.2 0 0 1 3024.86,201.60 L3015.77,263.13 A199,199 0 0 0 2953.51,263.79 Z" fill="#FFC000" stroke="#fff" stroke-width="9" stroke-linejoin="miter"/>
<path d="M3024.86,201.60 A261.2,261.2 0 0 1 3056.94,208.42 L3040.22,268.33 A199,199 0 0 0 3015.77,263.13 Z" fill="#2E75B6" stroke="#fff" stroke-width="9" stroke-linejoin="miter"/>
<path d="M3056.94,208.42 A261.2,261.2 0 0 1 3117.30,233.79 L3086.20,287.66 A199,199 0 0 0 3040.22,268.33 Z" fill="#70AD47" stroke="#fff" stroke-width="9" stroke-linejoin="miter"/>
<path d="M3071,174.6 L3156,108.1" stroke="#A6A6A6" stroke-width="4.5" fill="none"/>
<path d="M3095.7,184.8 L3118.9,99.4 H3156" stroke="#A6A6A6" stroke-width="4.5" fill="none"/>
<path d="M3120.4,196.3 L3167.5,155.1 H3204" stroke="#A6A6A6" stroke-width="4.5" fill="none"/>
<text x="2965.2" y="184.0" font-size="53" fill="#000">8</text>
<text x="2746.7" y="231.0" font-size="58" fill="#000">13%</text>
<text x="2788.8" y="314.5" font-size="58" fill="#000">17%</text>
<text x="2967.8" y="252.0" font-size="58" fill="#000">5</text>
<text x="3012.7" y="252.0" font-size="58" fill="#000">2</text>
<text x="3054.0" y="276.0" font-size="58" fill="#000">4</text>
<text x="3139.9" y="96.5" font-size="58" fill="#000">2</text>
<text x="3195.2" y="121.0" font-size="58" fill="#000">1</text>
<text x="3236.8" y="177.0" font-size="58" fill="#000">2</text>
<text x="2861.8" y="415.0" font-size="58" fill="#000">Inner: LFP</text>
<text x="2842.6" y="520.7" font-size="58" fill="#000">Outer: NMC</text>
<text x="2703.2" y="503.0" font-size="58" fill="#000">18%</text>
<text x="3110.2" y="621.0" font-size="58" fill="#000">54%</text>
<text x="3012.3" y="764.0" font-size="58" fill="#000">74%</text>
<text x="1323.9" y="1086.0" font-size="82" font-weight="bold" fill="#000">d</text>
<text x="1373.1" y="1172.5" font-size="68" fill="#000">(k¥)</text>
<text x="1500.1" y="1202.0" font-size="58" fill="#000">Pyro-</text>
<text x="1721.3" y="1202.7" font-size="58" fill="#000">Hydro-</text>
<text x="1939.0" y="1202.7" font-size="58" fill="#000" textLength="236.8" lengthAdjust="spacing">ML-Direct</text>
<rect x="1450" y="1240" width="228" height="471.5999999999999" fill="#F8FAF5"/>
<rect x="1697" y="1240" width="229.4" height="471.5999999999999" fill="#FEFBF4"/>
<rect x="1943" y="1240" width="230.4" height="471.5999999999999" fill="#F6F8FC"/>
<rect x="1458" y="1709.8" width="720" height="3.5" fill="#D9D9D9"/>
<text x="1394.0" y="1724.1" font-size="58" fill="#000">0</text>
<rect x="1458" y="1613.4" width="720" height="3.5" fill="#D9D9D9"/>
<text x="1356.6" y="1630.2" font-size="58" fill="#000">15</text>
<rect x="1458" y="1517.0" width="720" height="3.5" fill="#D9D9D9"/>
<text x="1356.3" y="1533.8" font-size="58" fill="#000">30</text>
<rect x="1458" y="1420.6" width="720" height="3.5" fill="#D9D9D9"/>
<text x="1356.6" y="1437.4" font-size="58" fill="#000">45</text>
<rect x="1458" y="1324.2" width="720" height="3.5" fill="#D9D9D9"/>
<text x="1356.3" y="1341.0" font-size="58" fill="#000">60</text>
<rect x="1458" y="1227.8" width="720" height="3.5" fill="#D9D9D9"/>
<text x="1356.6" y="1244.6" font-size="58" fill="#000">75</text>
<rect x="1481" y="1608.1" width="20.6" height="103.5" fill="#BFBFBF"/>
<rect x="1508" y="1588.8" width="20.6" height="122.8" fill="#ED7D31"/>
<rect x="1534.2" y="1694.2" width="20.6" height="17.4" fill="#92D050"/>
<rect x="1601" y="1475.7" width="20.6" height="235.9" fill="#BFBFBF"/>
<rect x="1628" y="1443.0" width="20.6" height="268.6" fill="#ED7D31"/>
<rect x="1654.2" y="1678.8" width="20.6" height="32.8" fill="#92D050"/>
<rect x="1721" y="1603.6" width="20.6" height="108.0" fill="#BFBFBF"/>
<rect x="1748" y="1538.1" width="20.6" height="173.5" fill="#ED7D31"/>
<rect x="1774.2" y="1645.4" width="20.6" height="66.2" fill="#92D050"/>
<rect x="1841" y="1472.5" width="20.6" height="239.1" fill="#BFBFBF"/>
<rect x="1868" y="1410.2" width="20.6" height="301.4" fill="#ED7D31"/>
<rect x="1894.2" y="1648.6" width="20.6" height="63.0" fill="#92D050"/>
<rect x="1961" y="1596.6" width="20.6" height="115.0" fill="#BFBFBF"/>
<rect x="1988" y="1511.7" width="20.6" height="199.9" fill="#ED7D31"/>
<rect x="2014.2" y="1626.8" width="20.6" height="84.8" fill="#92D050"/>
<rect x="2081" y="1453.2" width="20.6" height="258.4" fill="#BFBFBF"/>
<rect x="2108" y="1261.7" width="20.6" height="449.9" fill="#ED7D31"/>
<rect x="2134.2" y="1520.1" width="20.6" height="191.5" fill="#92D050"/>
<text x="1460.0" y="1781.0" font-size="51" fill="#000">LFP</text>
<text x="1571.1" y="1781.0" font-size="51" fill="#000">NMC</text>
<text x="1706.9" y="1781.0" font-size="51" fill="#000">LFP</text>
<text x="1817.6" y="1781.0" font-size="51" fill="#000">NMC</text>
<text x="1952.0" y="1781.0" font-size="51" fill="#000">LFP</text>
<text x="2062.3" y="1781.0" font-size="51" fill="#000">NMC</text>
<rect x="1790.5" y="1833.5" width="53.5" height="53" fill="#BFBFBF"/>
<rect x="2161.9" y="1833.5" width="53.5" height="53" fill="#ED7D31"/>
<rect x="2644" y="1833.5" width="53.5" height="53" fill="#92D050"/>
<text x="1894.5" y="1878.0" font-size="59" fill="#000">Cost (¥)</text>
<text x="2264.8" y="1878.0" font-size="59" fill="#000">Revenue (¥)</text>
<text x="2746.4" y="1878.0" font-size="59" fill="#000">Profit (¥)</text>
<text x="2200.5" y="1087.0" font-size="80" font-weight="bold" fill="#000">e</text>
<text x="2237.8" y="1177.5" font-size="68" fill="#000">(k¥)</text>
<text x="2690.4" y="1195.0" font-size="58" fill="#000">LFP : NMC</text>
<rect x="2335.7" y="1238" width="322" height="473" fill="#F8FAF5"/>
<rect x="2668" y="1238" width="318.3" height="473" fill="#FEFBF4"/>
<rect x="3000" y="1238" width="318.7" height="473" fill="#F6F8FC"/>
<rect x="2330" y="1709.2" width="1008" height="3.5" fill="#D9D9D9"/>
<text x="2256.6" y="1724.0" font-size="58" fill="#000">0</text>
<rect x="2330" y="1613.0" width="1008" height="3.5" fill="#D9D9D9"/>
<text x="2219.5" y="1629.7" font-size="58" fill="#000">15</text>
<rect x="2330" y="1516.7" width="1008" height="3.5" fill="#D9D9D9"/>
<text x="2219.2" y="1533.5" font-size="58" fill="#000">30</text>
<rect x="2330" y="1420.5" width="1008" height="3.5" fill="#D9D9D9"/>
<text x="2219.5" y="1437.2" font-size="58" fill="#000">45</text>
<rect x="2330" y="1324.2" width="1008" height="3.5" fill="#D9D9D9"/>
<text x="2219.2" y="1341.0" font-size="58" fill="#000">60</text>
<rect x="2330" y="1228.0" width="1008" height="3.5" fill="#D9D9D9"/>
<text x="2219.5" y="1244.7" font-size="58" fill="#000">75</text>
<text x="2451.8" y="1281.0" font-size="58" fill="#000">1:2</text>
<text x="2776.8" y="1281.0" font-size="58" fill="#000">1:1</text>
<text x="3118.0" y="1281.5" font-size="58" fill="#000">2:1</text>
<rect x="2352.0" y="1500.5" width="19.5" height="210.5" fill="#BFBFBF"/>
<rect x="2376.7" y="1344.6" width="19.5" height="366.4" fill="#ED7D31"/>
<rect x="2401.4" y="1555.1" width="19.5" height="155.9" fill="#92D050"/>
<rect x="2463.8" y="1514.0" width="19.5" height="197.0" fill="#BFBFBF"/>
<rect x="2488.5" y="1492.8" width="19.5" height="218.2" fill="#ED7D31"/>
<rect x="2513.2" y="1689.8" width="19.5" height="21.2" fill="#92D050"/>
<rect x="2575.6" y="1522.3" width="19.5" height="188.7" fill="#BFBFBF"/>
<rect x="2600.3" y="1501.2" width="19.5" height="209.8" fill="#ED7D31"/>
<rect x="2625.0" y="1689.8" width="19.5" height="21.2" fill="#92D050"/>
<rect x="2687.4" y="1523.6" width="19.5" height="187.4" fill="#BFBFBF"/>
<rect x="2712.1" y="1385.6" width="19.5" height="325.4" fill="#ED7D31"/>
<rect x="2736.8" y="1572.4" width="19.5" height="138.6" fill="#92D050"/>
<rect x="2799.2" y="1524.3" width="19.5" height="186.7" fill="#BFBFBF"/>
<rect x="2823.9" y="1503.1" width="19.5" height="207.9" fill="#ED7D31"/>
<rect x="2848.6" y="1689.8" width="19.5" height="21.2" fill="#92D050"/>
<rect x="2911.0" y="1524.3" width="19.5" height="186.7" fill="#BFBFBF"/>
<rect x="2935.7" y="1503.1" width="19.5" height="207.9" fill="#ED7D31"/>
<rect x="2960.4" y="1689.8" width="19.5" height="21.2" fill="#92D050"/>
<rect x="3022.8" y="1548.6" width="19.5" height="162.4" fill="#BFBFBF"/>
<rect x="3047.5" y="1428.6" width="19.5" height="282.4" fill="#ED7D31"/>
<rect x="3072.2" y="1590.4" width="19.5" height="120.6" fill="#92D050"/>
<rect x="3134.6" y="1533.9" width="19.5" height="177.1" fill="#BFBFBF"/>
<rect x="3159.3" y="1513.3" width="19.5" height="197.7" fill="#ED7D31"/>
<rect x="3184.0" y="1689.8" width="19.5" height="21.2" fill="#92D050"/>
<rect x="3246.4" y="1526.8" width="19.5" height="184.2" fill="#BFBFBF"/>
<rect x="3271.1" y="1505.0" width="19.5" height="206.0" fill="#ED7D31"/>
<rect x="3295.8" y="1689.8" width="19.5" height="21.2" fill="#92D050"/>
<text x="2337.1" y="1770.0" font-size="50" fill="#000">WDV</text>
<text x="2478.5" y="1770.0" font-size="50" fill="#000">MV</text>
<text x="2594.3" y="1770.0" font-size="50" fill="#000">IL</text>
<text x="2669.6" y="1770.0" font-size="50" fill="#000">WDV</text>
<text x="2810.1" y="1770.0" font-size="50" fill="#000">MV</text>
<text x="2925.9" y="1770.0" font-size="50" fill="#000">IL</text>
<text x="3012.4" y="1770.0" font-size="50" fill="#000">WDV</text>
<text x="3152.6" y="1770.0" font-size="50" fill="#000">MV</text>
<text x="3268.9" y="1770.0" font-size="50" fill="#000">IL</text>
<text x="1323.8" y="1983.0" font-size="82" font-weight="bold" fill="#000">f</text>
<text x="1354.5" y="2070.5" font-size="68" fill="#000">(k¥)</text>
<text x="1480.8" y="2081.0" font-size="54.5" fill="#000">ML-Direct</text>
<text x="1901.3" y="2080.6" font-size="58" fill="#000">Pyro-</text>
<text x="2174.1" y="2085.9" font-size="58" fill="#000">Hydro-</text>
<rect x="1434.5" y="2558.5" width="311.5" height="4" fill="#D9D9D9"/>
<rect x="1760" y="2558.5" width="313.5" height="4" fill="#D9D9D9"/>
<rect x="2089.2" y="2558.5" width="309.4" height="4" fill="#D9D9D9"/>
<text x="1385.0" y="2583.0" font-size="58" fill="#000">0</text>
<rect x="1434.5" y="2484.4" width="311.5" height="4" fill="#D9D9D9"/>
<rect x="1760" y="2484.4" width="313.5" height="4" fill="#D9D9D9"/>
<rect x="2089.2" y="2484.4" width="309.4" height="4" fill="#D9D9D9"/>
<text x="1385.2" y="2508.9" font-size="58" fill="#000">5</text>
<rect x="1434.5" y="2410.3" width="311.5" height="4" fill="#D9D9D9"/>
<rect x="1760" y="2410.3" width="313.5" height="4" fill="#D9D9D9"/>
<rect x="2089.2" y="2410.3" width="309.4" height="4" fill="#D9D9D9"/>
<text x="1352.8" y="2434.8" font-size="58" fill="#000">10</text>
<rect x="1434.5" y="2336.2" width="311.5" height="4" fill="#D9D9D9"/>
<rect x="1760" y="2336.2" width="313.5" height="4" fill="#D9D9D9"/>
<rect x="2089.2" y="2336.2" width="309.4" height="4" fill="#D9D9D9"/>
<text x="1353.0" y="2360.8" font-size="58" fill="#000">15</text>
<rect x="1434.5" y="2262.2" width="311.5" height="4" fill="#D9D9D9"/>
<rect x="1760" y="2262.2" width="313.5" height="4" fill="#D9D9D9"/>
<rect x="2089.2" y="2262.2" width="309.4" height="4" fill="#D9D9D9"/>
<text x="1352.8" y="2286.7" font-size="58" fill="#000">20</text>
<rect x="1434.5" y="2188.1" width="311.5" height="4" fill="#D9D9D9"/>
<rect x="1760" y="2188.1" width="313.5" height="4" fill="#D9D9D9"/>
<rect x="2089.2" y="2188.1" width="309.4" height="4" fill="#D9D9D9"/>
<text x="1353.0" y="2212.6" font-size="58" fill="#000">25</text>
<rect x="1434.5" y="2114.0" width="311.5" height="4" fill="#D9D9D9"/>
<rect x="1760" y="2114.0" width="313.5" height="4" fill="#D9D9D9"/>
<rect x="2089.2" y="2114.0" width="309.4" height="4" fill="#D9D9D9"/>
<text x="1352.8" y="2138.5" font-size="58" fill="#000">30</text>
<path d="M1486.2,2199.0 L1589.3,2498.3 L1694.0,2496.8" fill="none" stroke="#ED7D31" stroke-width="15" stroke-linejoin="round"/>
<circle cx="1486.2" cy="2199.0" r="23.5" fill="#ED7D31"/>
<circle cx="1589.3" cy="2498.3" r="23.5" fill="#ED7D31"/>
<circle cx="1694.0" cy="2496.8" r="23.5" fill="#ED7D31"/>
<path d="M1811.7,2493.8 L1917.2,2493.8 L2021.2,2493.8" fill="none" stroke="#ED7D31" stroke-width="15" stroke-linejoin="round"/>
<circle cx="1811.7" cy="2493.8" r="23.5" fill="#ED7D31"/>
<circle cx="1917.2" cy="2493.8" r="23.5" fill="#ED7D31"/>
<circle cx="2021.2" cy="2493.8" r="23.5" fill="#ED7D31"/>
<path d="M2140.8,2414.6 L2243.5,2414.6 L2348.2,2414.6" fill="none" stroke="#ED7D31" stroke-width="15" stroke-linejoin="round"/>
<circle cx="2140.8" cy="2414.6" r="23.5" fill="#ED7D31"/>
<circle cx="2243.5" cy="2414.6" r="23.5" fill="#ED7D31"/>
<circle cx="2348.2" cy="2414.6" r="23.5" fill="#ED7D31"/>
<path d="M1486.2,2239.0 L1589.3,2496.8 L1694.0,2496.8" fill="none" stroke="#FFC000" stroke-width="15" stroke-linejoin="round"/>
<circle cx="1486.2" cy="2239.0" r="23.5" fill="#FFC000"/>
<circle cx="1589.3" cy="2496.8" r="23.5" fill="#FFC000"/>
<circle cx="1694.0" cy="2496.8" r="23.5" fill="#FFC000"/>
<path d="M1811.7,2499.8 L1917.2,2499.8 L2021.2,2499.8" fill="none" stroke="#FFC000" stroke-width="15" stroke-linejoin="round"/>
<circle cx="1811.7" cy="2499.8" r="23.5" fill="#FFC000"/>
<circle cx="1917.2" cy="2499.8" r="23.5" fill="#FFC000"/>
<circle cx="2021.2" cy="2499.8" r="23.5" fill="#FFC000"/>
<path d="M2140.8,2413.1 L2243.5,2413.1 L2348.2,2413.1" fill="none" stroke="#FFC000" stroke-width="15" stroke-linejoin="round"/>
<circle cx="2140.8" cy="2413.1" r="23.5" fill="#FFC000"/>
<circle cx="2243.5" cy="2413.1" r="23.5" fill="#FFC000"/>
<circle cx="2348.2" cy="2413.1" r="23.5" fill="#FFC000"/>
<path d="M1486.2,2280.5 L1589.3,2492.3 L1694.0,2496.8" fill="none" stroke="#70AD47" stroke-width="15" stroke-linejoin="round"/>
<circle cx="1486.2" cy="2280.5" r="23.5" fill="#70AD47"/>
<circle cx="1589.3" cy="2492.3" r="23.5" fill="#70AD47"/>
<circle cx="1694.0" cy="2496.8" r="23.5" fill="#70AD47"/>
<path d="M1811.7,2507.2 L1917.2,2507.2 L2021.2,2507.2" fill="none" stroke="#70AD47" stroke-width="15" stroke-linejoin="round"/>
<circle cx="1811.7" cy="2507.2" r="23.5" fill="#70AD47"/>
<circle cx="1917.2" cy="2507.2" r="23.5" fill="#70AD47"/>
<circle cx="2021.2" cy="2507.2" r="23.5" fill="#70AD47"/>
<path d="M2140.8,2411.6 L2243.5,2411.6 L2348.2,2411.6" fill="none" stroke="#70AD47" stroke-width="15" stroke-linejoin="round"/>
<circle cx="2140.8" cy="2411.6" r="23.5" fill="#70AD47"/>
<circle cx="2243.5" cy="2411.6" r="23.5" fill="#70AD47"/>
<circle cx="2348.2" cy="2411.6" r="23.5" fill="#70AD47"/>
<text x="1439.4" y="2640.5" font-size="50" fill="#000">WDV</text>
<text x="1564.6" y="2640.5" font-size="50" fill="#000">MV</text>
<text x="1683.8" y="2640.5" font-size="50" fill="#000">IL</text>
<text x="1767.3" y="2638.5" font-size="50" fill="#000">WDV</text>
<text x="1894.0" y="2638.5" font-size="50" fill="#000">MV</text>
<text x="2011.3" y="2638.5" font-size="50" fill="#000">IL</text>
<text x="2102.0" y="2634.5" font-size="50" fill="#000">WDV</text>
<text x="2228.2" y="2634.5" font-size="50" fill="#000">MV</text>
<text x="2345.0" y="2634.5" font-size="50" fill="#000">IL</text>
<text x="1385.5" y="2739.0" font-size="58" fill="#000">LFP : NMC</text>
<rect x="1717.5" y="2712.5" width="85.0" height="12" fill="#ED7D31"/>
<rect x="1943.5" y="2712" width="85.0" height="12" fill="#FFC000"/>
<rect x="2165" y="2714" width="85" height="12" fill="#70AD47"/>
<text x="1819.0" y="2740.0" font-size="58" fill="#000">1:2</text>
<text x="2050.1" y="2740.0" font-size="58" fill="#000">1:1</text>
<text x="2279.1" y="2740.0" font-size="58" fill="#000">2:1</text>
<text x="2434.4" y="1980.0" font-size="80" font-weight="bold" fill="#000">g</text>
<polygon points="2891.4,2335.9 2947.9,2376.9 2926.3,2443.4 2856.5,2443.4 2834.9,2376.9" fill="none" stroke="#D9D9D9" stroke-width="3.5"/>
<polygon points="2891.4,2276.5 3004.4,2358.6 2961.2,2491.4 2821.6,2491.4 2778.4,2358.6" fill="none" stroke="#D9D9D9" stroke-width="3.5"/>
<polygon points="2891.4,2217.1 3060.9,2340.2 2996.1,2539.5 2786.7,2539.5 2721.9,2340.2" fill="none" stroke="#D9D9D9" stroke-width="3.5"/>
<polygon points="2891.4,2157.7 3117.4,2321.9 3031.1,2587.5 2751.7,2587.5 2665.4,2321.9" fill="none" stroke="#D9D9D9" stroke-width="3.5"/>
<polygon points="2891.4,2098.3 3173.9,2303.5 3066.0,2635.6 2716.8,2635.6 2608.9,2303.5" fill="none" stroke="#D9D9D9" stroke-width="3.5"/>
<polygon points="2891.4,2157.7 3117.4,2321.9 3048.5,2611.6 2751.7,2587.5 2665.4,2321.9" fill="none" stroke="#A9D18E" stroke-width="15" stroke-linejoin="round"/>
<polygon points="2891.4,2217.1 3060.9,2340.2 2961.2,2491.4 2856.5,2443.4 2778.4,2358.6" fill="none" stroke="#C55A11" stroke-width="15" stroke-linejoin="round"/>
<polygon points="2891.4,2276.5 3071.0,2336.9 2996.1,2539.5 2821.6,2491.4 2834.9,2376.9" fill="none" stroke="#2E75B6" stroke-width="15" stroke-linejoin="round"/>
<circle cx="2891.4" cy="2157.7" r="20.5" fill="#808080"/>
<circle cx="3117.4" cy="2321.9" r="20.5" fill="#808080"/>
<circle cx="3048.5" cy="2611.6" r="20.5" fill="#808080"/>
<circle cx="2751.7" cy="2587.5" r="20.5" fill="#808080"/>
<circle cx="2665.4" cy="2321.9" r="20.5" fill="#808080"/>
<circle cx="2891.4" cy="2217.1" r="20.5" fill="#808080"/>
<circle cx="3060.9" cy="2340.2" r="20.5" fill="#808080"/>
<circle cx="2961.2" cy="2491.4" r="20.5" fill="#808080"/>
<circle cx="2856.5" cy="2443.4" r="20.5" fill="#808080"/>
<circle cx="2778.4" cy="2358.6" r="20.5" fill="#808080"/>
<circle cx="2891.4" cy="2276.5" r="20.5" fill="#808080"/>
<circle cx="3071.0" cy="2336.9" r="20.5" fill="#808080"/>
<circle cx="2996.1" cy="2539.5" r="20.5" fill="#808080"/>
<circle cx="2821.6" cy="2491.4" r="20.5" fill="#808080"/>
<circle cx="2834.9" cy="2376.9" r="20.5" fill="#808080"/>
<text x="2927.8" y="2119.0" font-size="58" fill="#000">5</text>
<text x="2877.6" y="2390.0" font-size="58" fill="#000">1</text>
<text x="2663.6" y="2059.4" font-size="58" fill="#000">Operation simplicity</text>
<text x="3094.6" y="2188.4" font-size="58" fill="#000">Environment</text>
<text x="3130.5" y="2255.5" font-size="58" fill="#000">protection</text>
<text x="2454.5" y="2221.2" font-size="58" fill="#000">Privacy</text>
<text x="2520.7" y="2579.1" font-size="58" fill="#000">Data</text>
<text x="2488.9" y="2649.0" font-size="58" fill="#000">sharing</text>
<text x="3130.6" y="2623.0" font-size="58" fill="#000">Profit</text>
<rect x="2422" y="2713.7" width="84.4" height="12" fill="#C55A11"/>
<rect x="2698.7" y="2710.8" width="84.5" height="12" fill="#2E75B6"/>
<rect x="3019" y="2712.2" width="83.9" height="12" fill="#A9D18E"/>
<text x="2521.5" y="2741.6" font-size="58" fill="#000">Pyro-</text>
<text x="2805.4" y="2741.5" font-size="58" fill="#000">Hydro-</text>
<text x="3132.9" y="2741.5" font-size="58" fill="#000">ML-Direct</text>
</svg></body></html>
